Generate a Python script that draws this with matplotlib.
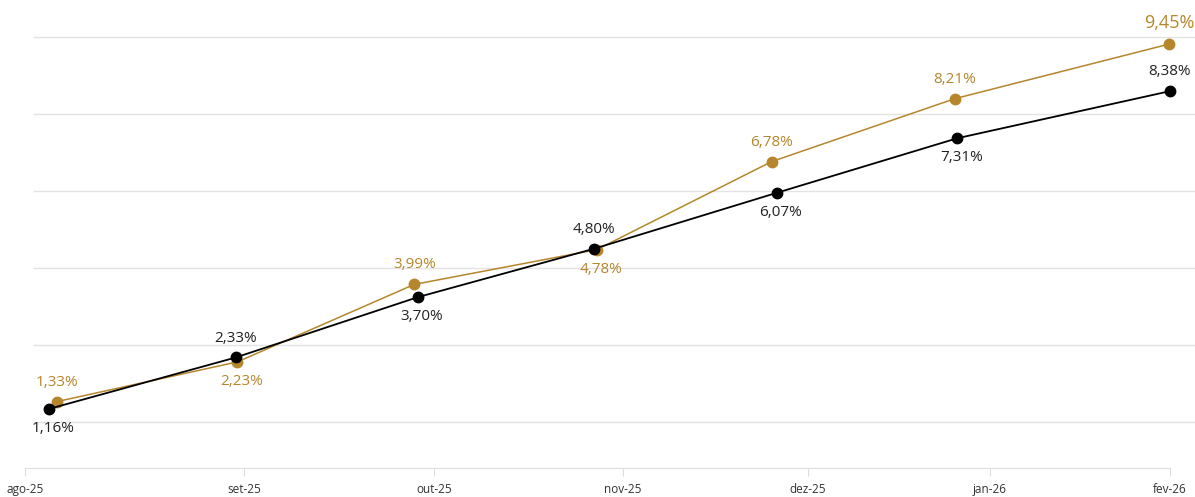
import matplotlib
matplotlib.use("Agg")
import matplotlib.pyplot as plt

plt.rcParams["font.family"] = ["Open Sans", "DejaVu Sans"]

# month ticks (positions)
tick_pos = [25, 244, 434, 623, 808, 990, 1170]
tick_labels = ["ago-25", "set-25", "out-25", "nov-25", "dez-25", "jan-26", "fev-26"]

# black series
black_x = [48.7, 235.7, 417.7, 594, 776.7, 957.3, 1170]
black_y = [1.16, 2.33, 3.70, 4.80, 6.07, 7.31, 8.38]
black_pos = ["below", "above", "below", "above", "below", "below", "above"]

# gold series
gold_x = [57.3, 237.3, 414.3, 596.7, 771.7, 955, 1169.3]
gold_y = [1.33, 2.23, 3.99, 4.78, 6.78, 8.21, 9.45]
gold_pos = ["above", "below", "above", "below", "above", "above", "above"]

grid_levels = [0.87, 2.61, 4.36, 6.11, 7.86, 9.61]

BLACK = "#000000"
GOLD = "#B5862C"

fig = plt.figure(figsize=(11.95, 4.97), dpi=100)
ax = fig.add_axes([0, 29 / 497, 1, 468 / 497])
ax.set_xlim(0, 1195)
ax.set_ylim(-0.18, 10.45)

ax.hlines(grid_levels, 33, 1195, color="#e3e3e3", lw=1, zorder=0)

ax.plot(black_x, black_y, color=BLACK, lw=1.3, marker="o", ms=7.5, zorder=3)
ax.plot(gold_x, gold_y, color=GOLD, lw=1.1, marker="o", ms=7.5, zorder=2)

def fmt(v):
    return f"{v:.2f}".replace(".", ",") + "%"

for xs, ys, pos, col, tcol in [(black_x, black_y, black_pos, BLACK, "#222222"),
                               (gold_x, gold_y, gold_pos, GOLD, GOLD)]:
    for i, (x, y, p) in enumerate(zip(xs, ys, pos)):
        dy = 14 if p == "above" else -14
        dx = 0 if p == "above" else 3
        size = 11
        if col == GOLD and i == len(xs) - 1:
            size = 13
            dy = 15
        ax.annotate(fmt(y), (x, y), xytext=(dx, dy), textcoords="offset points",
                    ha="center", va="center", fontsize=size, color=tcol)

for s in ["top", "right", "left"]:
    ax.spines[s].set_visible(False)
ax.spines["bottom"].set_color("#dddddd")
ax.spines["bottom"].set_bounds(tick_pos[0], tick_pos[-1])
ax.set_yticks([])
ax.set_xticks(tick_pos)
ax.set_xticklabels(tick_labels, fontsize=8.5, color="#333333")
ax.tick_params(axis="x", length=6, color="#dddddd", pad=5)

fig.savefig("out.png", dpi=100)
